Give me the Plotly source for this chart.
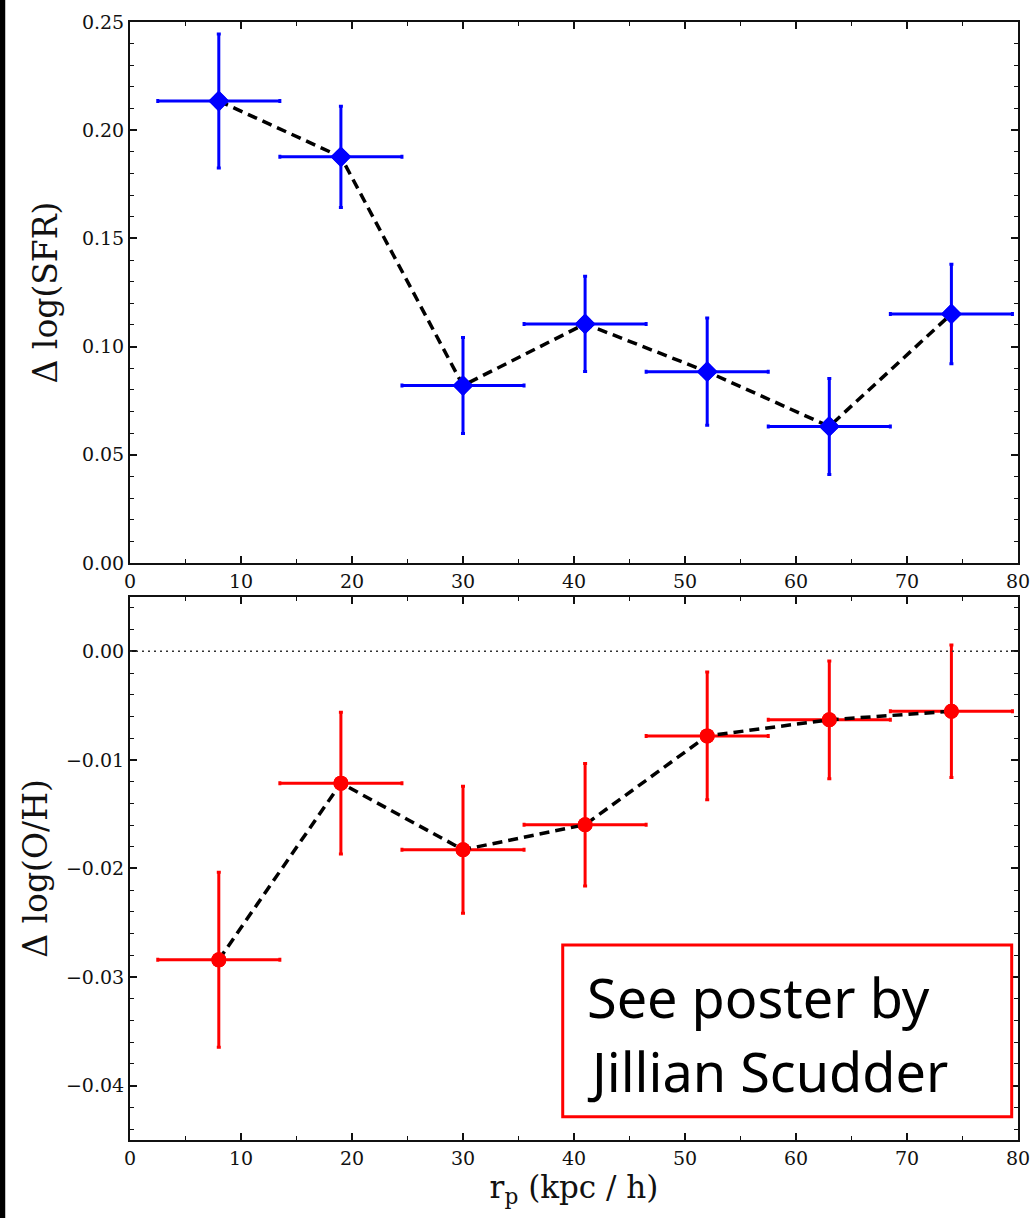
import plotly.graph_objects as go
from plotly.subplots import make_subplots

# ---- data ----
rp = [8, 19, 30, 41, 52, 63, 74]
rp_err = [5.5, 5.5, 5.5, 5.5, 5.5, 5.5, 5.5]

dsfr = [0.2135, 0.1877, 0.0820, 0.1105, 0.0884, 0.0631, 0.1151]
dsfr_err = [0.0310, 0.0234, 0.0222, 0.0220, 0.0248, 0.0222, 0.0230]

doh = [-0.02841, -0.01214, -0.01827, -0.01597, -0.00779, -0.00631, -0.00552]
doh_err = [0.00806, 0.00653, 0.00584, 0.00564, 0.00589, 0.00542, 0.00609]

x_ticks = [0, 10, 20, 30, 40, 50, 60, 70, 80]
sfr_ticks = [0.00, 0.05, 0.10, 0.15, 0.20, 0.25]
oh_ticks = [-0.04, -0.03, -0.02, -0.01, 0.00]

note_lines = ["See poster by", "Jillian Scudder"]

BLUE = "#0000ff"
RED = "#ff0000"
SERIF = "DejaVu Serif"

fig = make_subplots(rows=2, cols=1, vertical_spacing=0.0304, shared_xaxes=False)

# top panel
fig.add_trace(go.Scatter(
    x=rp, y=dsfr, mode="markers",
    marker=dict(symbol="diamond", size=16, color=BLUE),
    error_x=dict(type="data", array=rp_err, color=BLUE, thickness=3, width=2),
    error_y=dict(type="data", array=dsfr_err, color=BLUE, thickness=3, width=2),
    showlegend=False), row=1, col=1)
fig.add_trace(go.Scatter(
    x=rp, y=dsfr, mode="lines",
    line=dict(color="black", width=3.5, dash="10px,6px"),
    showlegend=False), row=1, col=1)
fig.add_trace(go.Scatter(
    x=rp, y=dsfr, mode="markers",
    marker=dict(symbol="diamond", size=16, color=BLUE),
    showlegend=False), row=1, col=1)

# bottom panel
fig.add_trace(go.Scatter(
    x=rp, y=doh, mode="markers",
    marker=dict(symbol="circle", size=15, color=RED),
    error_x=dict(type="data", array=rp_err, color=RED, thickness=3, width=2),
    error_y=dict(type="data", array=doh_err, color=RED, thickness=3, width=2),
    showlegend=False), row=2, col=1)
fig.add_trace(go.Scatter(
    x=rp, y=doh, mode="lines",
    line=dict(color="black", width=3.5, dash="10px,6px"),
    showlegend=False), row=2, col=1)
fig.add_trace(go.Scatter(
    x=rp, y=doh, mode="markers",
    marker=dict(symbol="circle", size=15, color=RED),
    showlegend=False), row=2, col=1)

axis_common = dict(
    showline=True, linecolor="#111", linewidth=2, mirror="allticks",
    ticks="inside", ticklen=7, tickwidth=1.5, tickcolor="#111",
    showgrid=False, zeroline=False, automargin=False,
    ticklabeloverflow="allow",
    tickfont=dict(family=SERIF, size=19, color="#111"),
)

fig.update_xaxes(**axis_common, range=[0, 80], tickvals=x_ticks,
                 minor=dict(dtick=5, ticks="inside", ticklen=4, tickcolor="#111", tickwidth=1.2))
fig.update_xaxes(title=dict(text="r<sub>p</sub> (kpc / h)", font=dict(family=SERIF, size=31, color="#111"),
                            standoff=6), row=2, col=1)

fig.update_yaxes(**axis_common)
fig.update_yaxes(range=[0, 0.25], tickvals=sfr_ticks, tickformat=".2f",
                 minor=dict(dtick=0.01, ticks="inside", ticklen=4, tickcolor="#111", tickwidth=1.2),
                 title=dict(text="Δ log(SFR)", font=dict(family=SERIF, size=33, color="#111"), standoff=14),
                 row=1, col=1)
fig.update_yaxes(range=[-0.045, 0.005], tickvals=oh_ticks, tickformat=".2f",
                 minor=dict(dtick=0.002, tick0=0, ticks="inside", ticklen=4, tickcolor="#111", tickwidth=1.2),
                 title=dict(text="Δ log(O/H)", font=dict(family=SERIF, size=33, color="#111"), standoff=8),
                 row=2, col=1)

fig.update_layout(
    width=1030, height=1218,
    margin=dict(l=130, r=12, t=22, b=78, autoexpand=False),
    paper_bgcolor="white", plot_bgcolor="white",
)
fig.update_yaxes(domain=[0.5161, 1.0], row=1, col=1)
fig.update_yaxes(domain=[0.0, 0.4857], row=2, col=1)

# dotted zero line in bottom panel
fig.add_shape(type="line", xref="x2 domain", yref="y2", x0=0, x1=1, y0=0, y1=0,
              line=dict(color="#333", width=1.5, dash="2px,4px"))

# black strip on left edge
fig.add_shape(type="rect", xref="paper", yref="paper", x0=-0.16, x1=-0.1405, y0=-0.08, y1=1.03,
              line=dict(width=0), fillcolor="black")

# note box
fig.add_shape(type="rect", xref="paper", yref="paper", x0=0.4873, x1=0.9929, y0=0.0208, y1=0.1744,
              line=dict(color=RED, width=3), fillcolor="white")
fig.add_annotation(xref="paper", yref="paper", x=0.5125, y=0.128, xanchor="left", yanchor="middle",
                   text=note_lines[0], showarrow=False,
                   font=dict(family="Noto Sans", size=54, color="black"))
fig.add_annotation(xref="paper", yref="paper", x=0.5125, y=0.062, xanchor="left", yanchor="middle",
                   text=note_lines[1], showarrow=False,
                   font=dict(family="Noto Sans", size=54, color="black"))

fig.write_html("out.html")
